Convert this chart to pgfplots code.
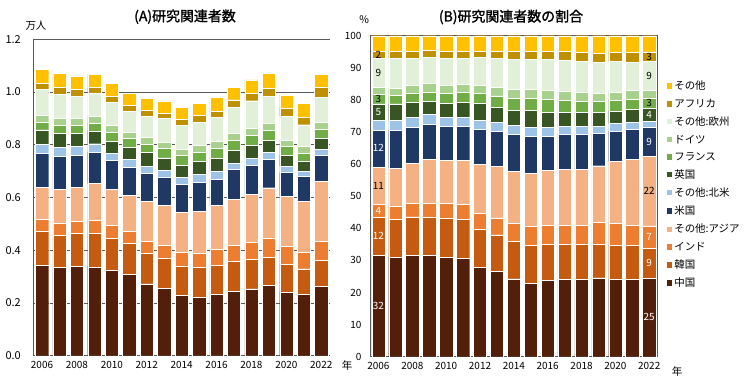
\documentclass[border=0pt]{standalone}
\usepackage{fontspec}
\setmainfont{Noto Sans CJK JP}
\newfontfamily\titlefont{Noto Sans CJK JP}[FakeBold=1.6]
\usepackage{pgfplots}
\usepackage{pgfplotstable}
\pgfplotsset{compat=1.18}
\definecolor{cCN}{RGB}{82,32,10}
\definecolor{cKR}{RGB}{197,90,17}
\definecolor{cIN}{RGB}{237,125,49}
\definecolor{cOA}{RGB}{244,177,131}
\definecolor{cUS}{RGB}{31,56,100}
\definecolor{cON}{RGB}{157,195,230}
\definecolor{cUK}{RGB}{55,86,35}
\definecolor{cFR}{RGB}{112,173,71}
\definecolor{cDE}{RGB}{169,209,142}
\definecolor{cOE}{RGB}{226,240,217}
\definecolor{cAF}{RGB}{191,144,0}
\definecolor{cOT}{RGB}{255,192,0}
\definecolor{axgray}{RGB}{90,90,90}
\tikzset{lbl/.style={font=\fontsize{10}{12}\selectfont, inner sep=0pt}}

% (A) 研究関連者数 [万人]
\pgfplotstableread{
year CN KR IN OA US ON UK FR DE OE AF OT
2006 0.344 0.127 0.047 0.122 0.127 0.036 0.054 0.030 0.026 0.097 0.025 0.050
2007 0.334 0.124 0.046 0.126 0.126 0.034 0.053 0.030 0.028 0.091 0.027 0.053
2008 0.338 0.127 0.044 0.129 0.121 0.035 0.049 0.030 0.026 0.086 0.026 0.050
2009 0.337 0.129 0.047 0.140 0.120 0.031 0.048 0.030 0.027 0.087 0.022 0.049
2010 0.323 0.124 0.047 0.136 0.111 0.027 0.047 0.033 0.025 0.090 0.021 0.048
2011 0.308 0.120 0.043 0.137 0.108 0.028 0.048 0.032 0.023 0.082 0.022 0.043
2012 0.273 0.116 0.046 0.150 0.107 0.028 0.051 0.032 0.025 0.082 0.020 0.045
2013 0.257 0.111 0.050 0.154 0.106 0.026 0.047 0.035 0.025 0.089 0.018 0.048
2014 0.230 0.111 0.053 0.150 0.108 0.025 0.047 0.035 0.025 0.089 0.024 0.044
2015 0.223 0.111 0.056 0.158 0.111 0.030 0.048 0.034 0.026 0.089 0.025 0.047
2016 0.234 0.110 0.059 0.167 0.101 0.029 0.049 0.038 0.027 0.092 0.022 0.052
2017 0.246 0.113 0.059 0.177 0.111 0.024 0.050 0.036 0.027 0.101 0.027 0.048
2018 0.254 0.112 0.064 0.183 0.111 0.025 0.048 0.038 0.028 0.104 0.027 0.052
2019 0.266 0.109 0.072 0.190 0.109 0.024 0.046 0.038 0.027 0.104 0.029 0.058
2020 0.241 0.105 0.068 0.191 0.090 0.025 0.041 0.035 0.022 0.090 0.031 0.050
2021 0.232 0.098 0.064 0.193 0.093 0.020 0.037 0.031 0.027 0.081 0.030 0.050
2022 0.262 0.100 0.072 0.228 0.097 0.023 0.042 0.034 0.028 0.096 0.036 0.050
}\tabA

% (B) 研究関連者数の割合 [%]
\pgfplotstableread{
year CN KR IN OA US ON UK FR DE OE AF OT
2006 31.6 11.8 4.2 11.4 11.7 3.1 5.0 3.0 2.2 9.0 2.2 4.8
2007 31.1 11.6 4.3 11.8 11.7 3.2 5.1 2.6 2.3 9.3 2.2 4.8
2008 31.6 12.0 4.3 12.3 11.3 3.1 4.7 2.8 2.4 8.5 2.2 4.8
2009 31.5 12.0 4.4 13.5 11.1 2.9 4.3 2.8 2.6 8.2 2.2 4.5
2010 31.1 12.1 4.6 13.4 10.5 2.9 4.3 3.2 2.5 8.5 2.2 4.7
2011 30.8 11.9 4.7 13.8 10.6 2.8 4.8 3.0 2.5 8.2 2.2 4.7
2012 28.0 11.8 4.9 15.3 10.9 2.9 5.1 3.3 2.4 8.7 2.0 4.7
2013 26.5 11.5 5.3 16.0 10.9 2.8 4.7 3.6 2.7 9.0 2.2 4.8
2014 24.3 11.8 5.6 16.1 11.5 2.7 4.9 3.5 2.9 9.5 2.4 4.8
2015 23.0 11.8 5.8 16.6 11.5 2.8 5.2 3.7 2.9 9.5 2.4 4.8
2016 23.9 11.1 6.0 17.1 10.5 2.9 4.8 3.9 2.9 9.6 2.5 4.8
2017 24.0 11.1 6.0 17.4 10.8 2.4 4.6 3.5 2.9 9.6 2.9 4.8
2018 24.2 10.7 6.1 17.5 10.8 2.4 4.4 3.6 2.8 9.6 2.8 5.1
2019 24.6 10.3 6.9 17.7 10.1 2.1 4.4 3.4 2.6 9.7 2.8 5.4
2020 24.2 10.6 6.9 19.3 9.3 2.3 4.0 3.3 2.6 9.6 2.7 5.2
2021 24.1 10.5 6.3 20.7 9.2 2.3 4.1 3.0 2.7 8.9 3.0 5.2
2022 24.5 9.4 6.9 21.6 9.0 2.1 3.8 3.1 2.6 9.0 3.0 5.0
}\tabB

\pgfplotsset{
  common/.style={
    scale only axis, anchor=south west,
    ybar stacked, bar width=13.3bp,
    reverse stacked plots=false,
    xmin=2005.5, xmax=2022.5, ymin=0,
    xtick={2006,2008,...,2022},
    tick style={draw=none},
    x tick label style={font=\fontsize{10}{12}\selectfont, yshift=-2bp,
      /pgf/number format/1000 sep={}, /pgf/number format/assume math mode=true},
  },
  seg/.style={fill=#1, draw=white, line width=0.35bp},
}

\begin{document}
\begin{tikzpicture}
\path[use as bounding box] (-33.3bp,-24.3bp) rectangle (716.7bp,355.7bp);

% ---------------- (A)
\begin{axis}[common,
  at={(0,0)}, width=296.7bp, height=316.4bp,
  ymax=1.2, ytick={0,0.2,0.4,0.6,0.8,1.0,1.2},
  axis x line*=bottom, axis y line*=left,
  axis line style={axgray, line width=0.8bp},
  ymajorgrids, grid style={axgray, line width=0.8bp},
  y tick label style={font=\fontsize{11}{13}\selectfont, xshift=-9bp,
    /pgf/number format/.cd, fixed, fixed zerofill, precision=1, assume math mode=true},
]
\addplot[seg=cCN] table[x=year,y=CN]{\tabA};
\addplot[seg=cKR] table[x=year,y=KR]{\tabA};
\addplot[seg=cIN] table[x=year,y=IN]{\tabA};
\addplot[seg=cOA] table[x=year,y=OA]{\tabA};
\addplot[seg=cUS] table[x=year,y=US]{\tabA};
\addplot[seg=cON] table[x=year,y=ON]{\tabA};
\addplot[seg=cUK] table[x=year,y=UK]{\tabA};
\addplot[seg=cFR] table[x=year,y=FR]{\tabA};
\addplot[seg=cDE] table[x=year,y=DE]{\tabA};
\addplot[seg=cOE] table[x=year,y=OE]{\tabA};
\addplot[seg=cAF] table[x=year,y=AF]{\tabA};
\addplot[seg=cOT] table[x=year,y=OT]{\tabA};
\end{axis}

% ---------------- (B)
\begin{axis}[common,
  at={(336.7bp,-1bp)}, width=287.7bp, height=321bp,
  ymax=100, ytick={0,10,...,100},
  axis line style={axgray, line width=0.8bp},
  y tick label style={font=\fontsize{10}{12}\selectfont, xshift=-5bp,
    /pgf/number format/assume math mode=true},
  reverse legend,
  legend style={at={(1.032,0.866)}, anchor=north west, draw=none, fill=none,
    font=\fontsize{10.5}{12}\selectfont, inner sep=0pt, row sep=3.9bp,
    cells={anchor=west}},
  legend image code/.code={\fill[#1,draw=none] (0bp,-2.6bp) rectangle (5.2bp,2.6bp);},
]
\addplot[seg=cCN] table[x=year,y=CN]{\tabB}; \addlegendentry{中国}
\addplot[seg=cKR] table[x=year,y=KR]{\tabB}; \addlegendentry{韓国}
\addplot[seg=cIN] table[x=year,y=IN]{\tabB}; \addlegendentry{インド}
\addplot[seg=cOA] table[x=year,y=OA]{\tabB}; \addlegendentry{その他:アジア}
\addplot[seg=cUS] table[x=year,y=US]{\tabB}; \addlegendentry{米国}
\addplot[seg=cON] table[x=year,y=ON]{\tabB}; \addlegendentry{その他:北米}
\addplot[seg=cUK] table[x=year,y=UK]{\tabB}; \addlegendentry{英国}
\addplot[seg=cFR] table[x=year,y=FR]{\tabB}; \addlegendentry{フランス}
\addplot[seg=cDE] table[x=year,y=DE]{\tabB}; \addlegendentry{ドイツ}
\addplot[seg=cOE] table[x=year,y=OE]{\tabB}; \addlegendentry{その他:欧州}
\addplot[seg=cAF] table[x=year,y=AF]{\tabB}; \addlegendentry{アフリカ}
\addplot[seg=cOT] table[x=year,y=OT]{\tabB}; \addlegendentry{その他}
\node[lbl, text=white] at (axis cs:2006,15.8) {32};
\node[lbl, text=white] at (axis cs:2006,37.5) {12};
\node[lbl, text=white] at (axis cs:2006,45.5) {4};
\node[lbl, text=black] at (axis cs:2006,53.3) {11};
\node[lbl, text=white] at (axis cs:2006,64.9) {12};
\node[lbl, text=white] at (axis cs:2006,76.3) {5};
\node[lbl, text=black] at (axis cs:2006,80.3) {3};
\node[lbl, text=black] at (axis cs:2006,88.5) {9};
\node[lbl, text=black] at (axis cs:2006,94.1) {2};
\node[lbl, text=white] at (axis cs:2022,12.3) {25};
\node[lbl, text=white] at (axis cs:2022,29.2) {9};
\node[lbl, text=white] at (axis cs:2022,37.4) {7};
\node[lbl, text=black] at (axis cs:2022,51.6) {22};
\node[lbl, text=white] at (axis cs:2022,66.9) {9};
\node[lbl, text=white] at (axis cs:2022,75.4) {4};
\node[lbl, text=black] at (axis cs:2022,78.9) {3};
\node[lbl, text=black] at (axis cs:2022,87.5) {9};
\node[lbl, text=black] at (axis cs:2022,93.5) {3};
\end{axis}

% titles and unit labels
\node[font=\fontsize{14}{16}\selectfont\titlefont] at (151.7bp,339bp) {(A)研究関連者数};
\node[font=\fontsize{14}{16}\selectfont\titlefont] at (477.7bp,338.7bp) {(B)研究関連者数の割合};
\node[font=\fontsize{10.5}{12}\selectfont] at (2.7bp,329.7bp) {万人};
\node[font=\fontsize{10.5}{12}\selectfont] at (331bp,335.7bp) {\%};
\node[font=\fontsize{10.5}{12}\selectfont] at (313.7bp,-10.3bp) {年};
\node[font=\fontsize{10.5}{12}\selectfont] at (643.7bp,-16.3bp) {年};
\end{tikzpicture}
\end{document}
